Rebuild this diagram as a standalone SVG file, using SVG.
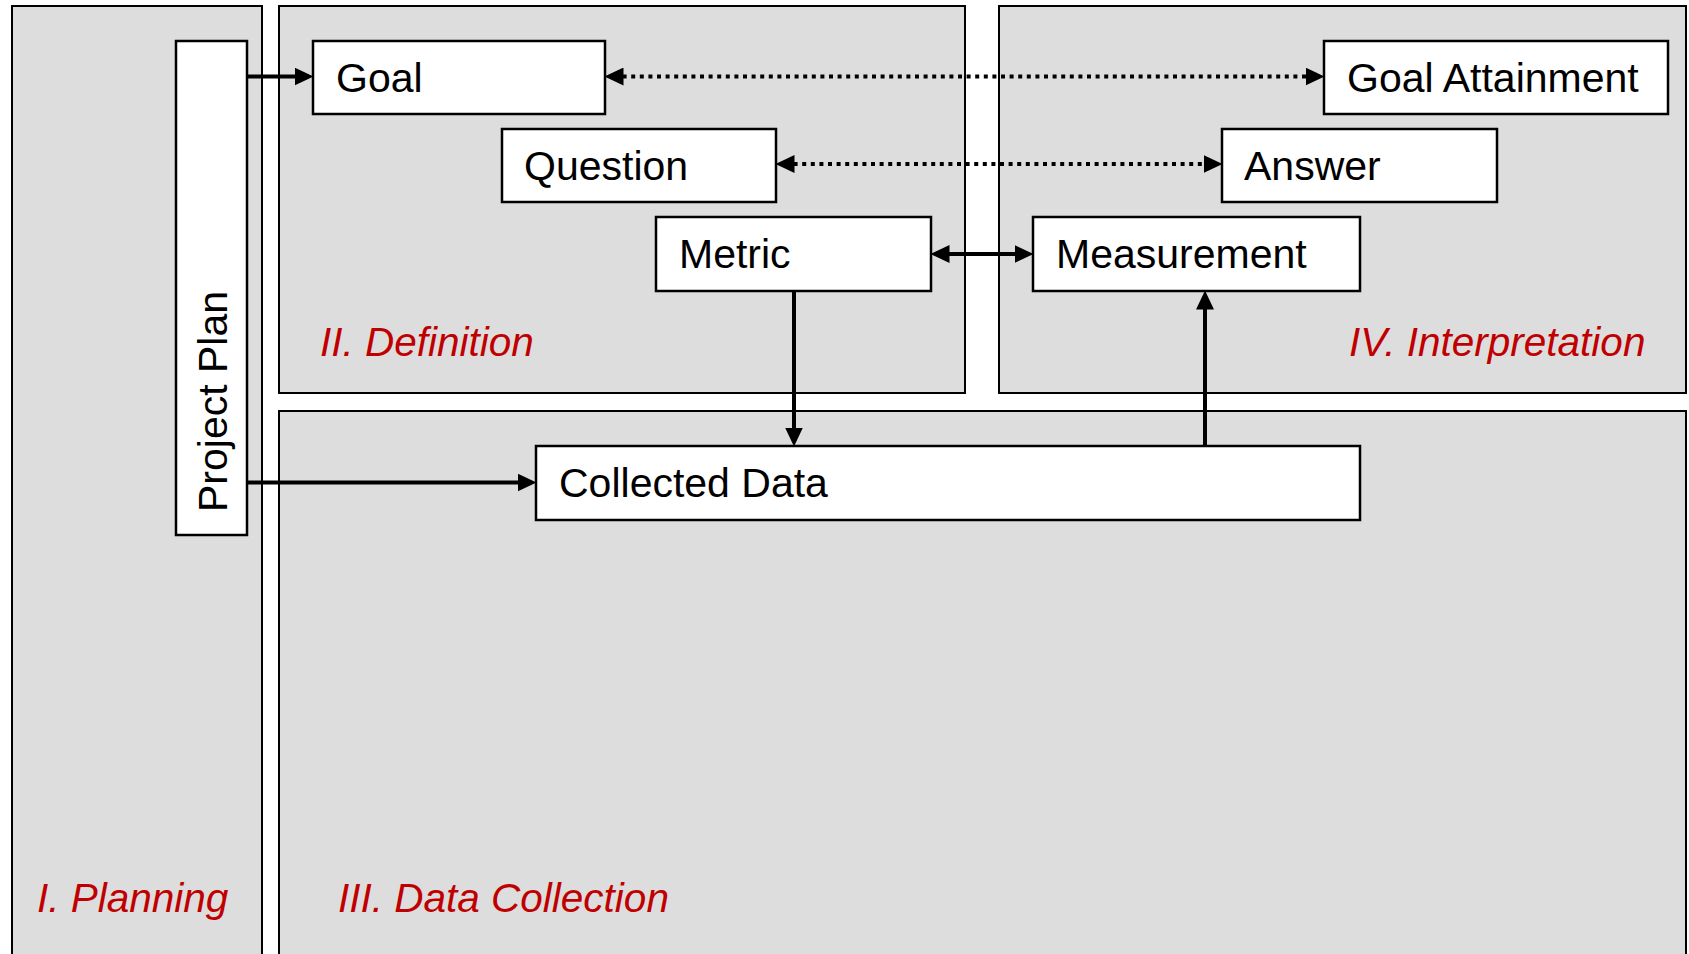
<svg xmlns="http://www.w3.org/2000/svg" width="1689" height="954" viewBox="0 0 1689 954">
<style>
  .panel { fill: #DDDDDD; stroke: #000; stroke-width: 2; }
  .box { fill: #FFFFFF; stroke: #000; stroke-width: 2.5; }
  .lbl { font-family: "Liberation Sans", Arial, sans-serif; font-size: 41px; fill: #000; }
  .phase { font-family: "Liberation Sans", Arial, sans-serif; font-size: 40.5px; font-style: italic; fill: #C00000; }
  .conn { fill: none; stroke: #000; stroke-width: 4; }
  .dot { stroke-dasharray: 4 4.6; }
</style>
<defs>
  <marker id="ah" markerUnits="userSpaceOnUse" markerWidth="19" markerHeight="18" viewBox="0 0 18 17" refX="9" refY="8.5" orient="auto-start-reverse">
    <path d="M0,0 L18,8.5 L0,17 z" fill="#000"/>
  </marker>
</defs>
<rect width="1689" height="954" fill="#FFFFFF"/>
<g id="panels">
  <g id="panel-planning"><rect class="panel" x="12" y="6" width="250" height="960"/><text class="phase" x="37" y="912">I. Planning</text></g>
  <g id="panel-definition"><rect class="panel" x="279" y="6" width="686" height="387"/><text class="phase" x="320" y="356">II. Definition</text></g>
  <g id="panel-interpretation"><rect class="panel" x="999" y="6" width="687" height="387"/><text class="phase" x="1349" y="356">IV. Interpretation</text></g>
  <g id="panel-datacollection"><rect class="panel" x="279" y="411" width="1407" height="560"/><text class="phase" x="338" y="912">III. Data Collection</text></g>
</g>
<g id="connectors">
  <path class="conn" d="M245,76.5 H304" marker-end="url(#ah)"/>
  <path class="conn dot" d="M614,76.5 H1315" marker-start="url(#ah)" marker-end="url(#ah)"/>
  <path class="conn dot" d="M785,164 H1213" marker-start="url(#ah)" marker-end="url(#ah)"/>
  <path class="conn" d="M940,254 H1024" marker-start="url(#ah)" marker-end="url(#ah)"/>
  <path class="conn" d="M794,291 V437" marker-end="url(#ah)"/>
  <path class="conn" d="M1205,446 V300" marker-end="url(#ah)"/>
  <path class="conn" d="M245,482.5 H527" marker-end="url(#ah)"/>
</g>
<g id="node-projectplan"><rect class="box" x="176" y="41" width="71" height="494"/><text class="lbl" transform="translate(226.5,512) rotate(-90)">Project Plan</text></g>
<g id="node-goal"><rect class="box" x="313" y="41" width="292" height="73"/><text class="lbl" x="336" y="91.5">Goal</text></g>
<g id="node-question"><rect class="box" x="502" y="129" width="274" height="73"/><text class="lbl" x="524" y="179.5">Question</text></g>
<g id="node-metric"><rect class="box" x="656" y="217" width="275" height="74"/><text class="lbl" x="679" y="268">Metric</text></g>
<g id="node-goalattainment"><rect class="box" x="1324" y="41" width="344" height="73"/><text class="lbl" x="1347" y="91.5">Goal Attainment</text></g>
<g id="node-answer"><rect class="box" x="1222" y="129" width="275" height="73"/><text class="lbl" x="1244" y="179.5">Answer</text></g>
<g id="node-measurement"><rect class="box" x="1033" y="217" width="327" height="74"/><text class="lbl" x="1056" y="268">Measurement</text></g>
<g id="node-collecteddata"><rect class="box" x="536" y="446" width="824" height="74"/><text class="lbl" x="559" y="497">Collected Data</text></g>
</svg>
